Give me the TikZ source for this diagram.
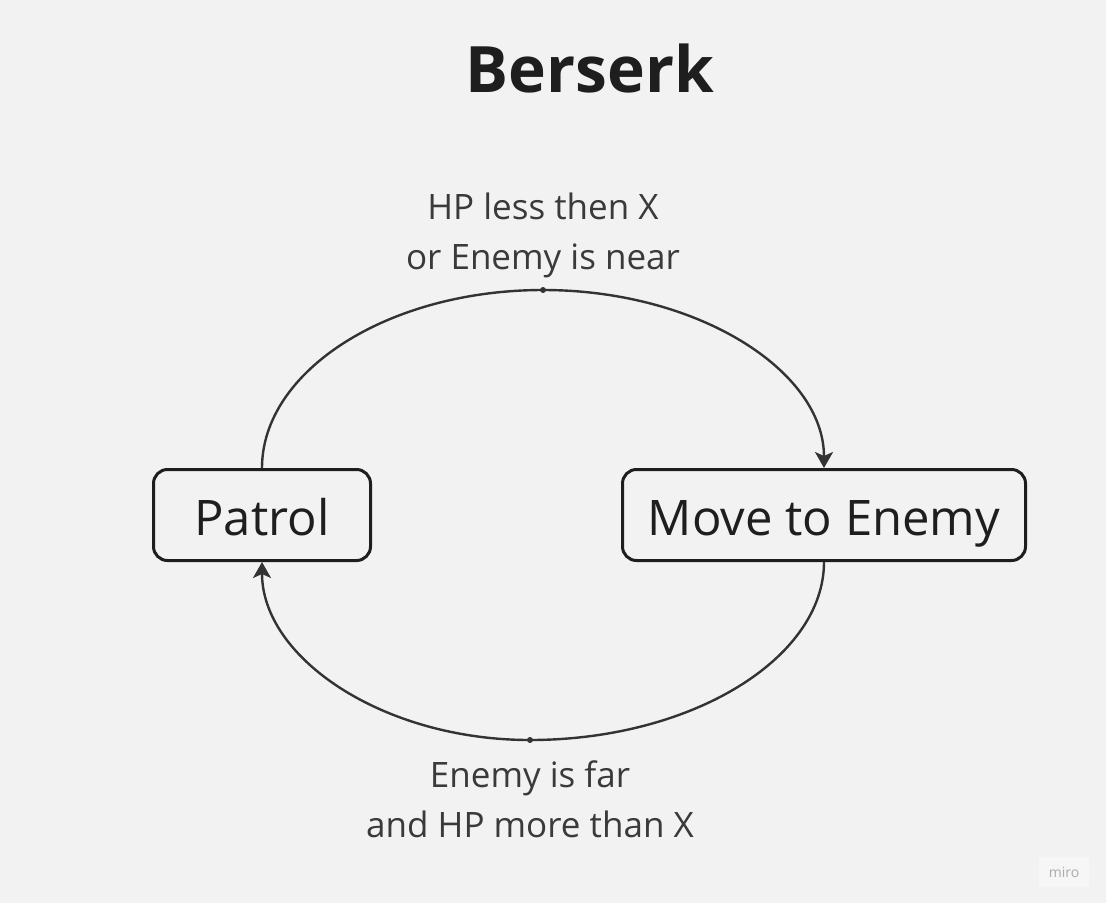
\documentclass[tikz,border=0pt]{standalone}
\usepackage{fontspec}
\setmainfont{Open Sans}
\usepackage{xcolor}
\usepackage{tikz}
\usetikzlibrary{arrows.meta}

\definecolor{paper}{HTML}{F2F2F2}
\definecolor{ink}{HTML}{1E1E1E}
\definecolor{wire}{HTML}{333333}
\definecolor{labelgray}{HTML}{3A3A3A}
\definecolor{marktext}{HTML}{ABABAB}

\tikzset{
  state/.style={draw=ink,line width=3pt,rounded corners=14pt,inner sep=0pt,
    minimum height=91pt,text height=40pt,text depth=0pt,text=ink,
    font=\fontsize{49}{58}\selectfont},
  flow/.style={draw=wire,line width=2.4pt,-{Stealth[length=16pt,width=18pt,inset=4pt]}},
  cond/.style={text=labelgray,align=center,font=\fontsize{35}{50}\selectfont}
}

\begin{document}
\begin{tikzpicture}[x=1pt,y=-1pt]
\fill[paper] (0,0) rectangle (1106,903);
\useasboundingbox (0,0) rectangle (1106,903);

\node[text=ink,font=\fontsize{64}{75}\selectfont\bfseries] (title) at (590,68) {Berserk};

\node[state,minimum width=217pt] (patrol) at (262,515) {Patrol};
\node[state,minimum width=403pt] (move) at (824,515) {Move to Enemy};

\coordinate (topmid) at (543,290);
\coordinate (botmid) at (530,740);

\draw[flow] (patrol.north) .. controls +(0,-97) and +(-155,0) .. (topmid)
  .. controls +(155,0) and +(0,-97) .. (move.north);
\draw[flow] (move.south) .. controls +(0,96) and +(162,0) .. (botmid)
  .. controls +(-147,0) and +(0,96) .. (patrol.south);

\fill[wire] (topmid) circle (3pt);
\fill[wire] (botmid) circle (3pt);

\node[cond] (uplabel) at (543,235) {HP less then X\\or Enemy is near};
\node[cond] (downlabel) at (530,799) {Enemy is far\\and HP more than X};

\node[fill=white!30!paper,minimum width=50pt,minimum height=30pt,text=marktext,
  font=\fontsize{14}{16}\selectfont] (miro) at (1064,872) {miro};
\end{tikzpicture}
\end{document}
